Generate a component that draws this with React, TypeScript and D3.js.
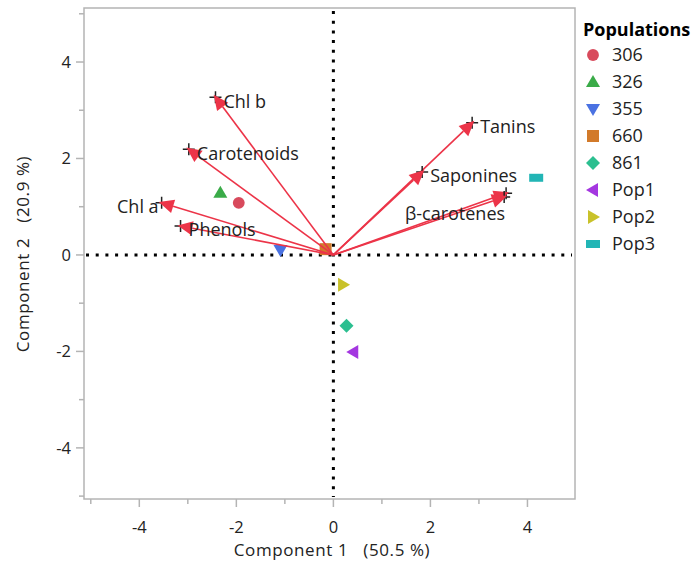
import React, { useEffect, useRef } from 'react';
import * as d3 from 'd3';

// population scores
const popNames = ['306', '326', '355', '660', '861', 'Pop1', 'Pop2', 'Pop3'];
const popX = [-1.95, -2.33, -1.09, -0.16, 0.27, 0.41, 0.2, 4.18];
const popY = [1.08, 1.29, 0.1, 0.12, -1.47, -2.01, -0.62, 1.6];
const popColors = ['#d84a5c', '#3aab48', '#4a72e2', '#d27a2a', '#2cbf90', '#a437e0', '#c9c22a', '#22b5b5'];
const popShapes = ['circle', 'up', 'down', 'square', 'diamond', 'left', 'right', 'bar'];

// variable loadings
const varNames = ['Chl b', 'Carotenoids', 'Chl a', 'Phenols', 'Tanins', 'Saponines', 'β-carotenes', ''];
const varX = [-2.43, -2.98, -3.54, -3.15, 2.86, 1.83, 3.56, 3.52];
const varY = [3.27, 2.19, 1.08, 0.6, 2.74, 1.72, 1.28, 1.2];

const xTicks = [-4, -2, 0, 2, 4];
const yTicks = [-4, -2, 0, 2, 4];
const minorTicks = [-5, -3, -1, 1, 3, 5];

const font = '"Open Sans", "Noto Sans", sans-serif';

const App = () => {
  const ref = useRef<SVGSVGElement>(null);

  useEffect(() => {
    const svg = d3.select(ref.current);
    svg.selectAll('*').remove();

    const x = d3.scaleLinear().domain([-5.14, 4.98]).range([84, 575]);
    const y = d3.scaleLinear().domain([-5.06, 5.12]).range([499, 8]);

    // frame
    svg.append('rect')
      .attr('x', 84).attr('y', 8)
      .attr('width', 575 - 84).attr('height', 499 - 8)
      .attr('fill', 'none').attr('stroke', '#b4b4b4').attr('stroke-width', 1.5);

    // y ticks
    yTicks.forEach(t => {
      svg.append('line').attr('x1', 76).attr('x2', 84).attr('y1', y(t)).attr('y2', y(t))
        .attr('stroke', '#b4b4b4').attr('stroke-width', 1.5);
      svg.append('text').attr('x', 71).attr('y', y(t)).attr('dy', '0.35em')
        .attr('text-anchor', 'end').style('font-family', font).style('font-size', '16.5px')
        .attr('fill', '#222').text(t);
    });
    minorTicks.filter(t => t > -5.06 && t < 5.12).forEach(t => {
      svg.append('line').attr('x1', 79).attr('x2', 84).attr('y1', y(t)).attr('y2', y(t))
        .attr('stroke', '#b4b4b4').attr('stroke-width', 1.5);
    });

    // x ticks
    xTicks.forEach(t => {
      svg.append('line').attr('x1', x(t)).attr('x2', x(t)).attr('y1', 499).attr('y2', 507)
        .attr('stroke', '#b4b4b4').attr('stroke-width', 1.5);
      svg.append('text').attr('x', x(t)).attr('y', 527).attr('dy', '0.35em')
        .attr('text-anchor', 'middle').style('font-family', font).style('font-size', '16.5px')
        .attr('fill', '#222').text(t);
    });
    minorTicks.filter(t => t > -5.14 && t < 4.98).forEach(t => {
      svg.append('line').attr('x1', x(t)).attr('x2', x(t)).attr('y1', 499).attr('y2', 504)
        .attr('stroke', '#b4b4b4').attr('stroke-width', 1.5);
    });

    // axis titles
    svg.append('text').attr('x', 332).attr('y', 550).attr('dy', '0.35em')
      .attr('text-anchor', 'middle').style('font-family', font).style('font-size', '17px')
      .style('letter-spacing', '0.6px')
      .attr('fill', '#222').attr('xml:space', 'preserve').text('Component 1   (50.5 %)');
    svg.append('text').attr('transform', `translate(23,254) rotate(-90)`).attr('dy', '0.35em')
      .attr('text-anchor', 'middle').style('font-family', font).style('font-size', '17px')
      .style('letter-spacing', '0.6px')
      .attr('fill', '#222').attr('xml:space', 'preserve').text('Component 2   (20.9 %)');

    // dotted reference lines
    svg.append('line').attr('x1', 86).attr('x2', 572).attr('y1', y(0)).attr('y2', y(0))
      .attr('stroke', '#000').attr('stroke-width', 3).attr('stroke-dasharray', '3,6.7');
    svg.append('line').attr('x1', x(0)).attr('x2', x(0)).attr('y1', 11).attr('y2', 497)
      .attr('stroke', '#000').attr('stroke-width', 3).attr('stroke-dasharray', '3,6.7');

    // score points
    const sym = (shape: string) => {
      switch (shape) {
        case 'circle': return d3.symbol(d3.symbolCircle, 110)();
        case 'up': return 'M0,-7L7,5L-7,5Z';
        case 'down': return 'M0,7L7,-5L-7,-5Z';
        case 'square': return 'M-6,-6H6V6H-6Z';
        case 'diamond': return 'M0,-7L7,0L0,7L-7,0Z';
        case 'left': return 'M-7,0L5,-7L5,7Z';
        case 'right': return 'M7,0L-5,-7L-5,7Z';
        default: return 'M-7,-4H7V4H-7Z';
      }
    };

    popNames.forEach((n, i) => {
      svg.append('path').attr('d', sym(popShapes[i]))
        .attr('transform', `translate(${x(popX[i])},${y(popY[i])})`)
        .attr('fill', popColors[i]);
    });

    // loading arrows: cross marker underneath, then line and head
    const red = '#ec3448';
    varNames.forEach((n, i) => {
      const x0 = x(0), y0 = y(0);
      const x1 = x(varX[i]), y1 = y(varY[i]);
      svg.append('path').attr('d', `M${x1 - 6},${y1}H${x1 + 6}M${x1},${y1 - 6}V${y1 + 6}`)
        .attr('stroke', '#222').attr('stroke-width', 1.5);
      const a = Math.atan2(y1 - y0, x1 - x0);
      const tx = x1 + 3 * Math.cos(a), ty = y1 + 3 * Math.sin(a);
      const L = 15, W = 7;
      const bx = tx - L * Math.cos(a), by = ty - L * Math.sin(a);
      svg.append('line').attr('x1', x0).attr('y1', y0).attr('x2', bx).attr('y2', by)
        .attr('stroke', red).attr('stroke-width', 1.6);
      svg.append('path')
        .attr('d', `M${tx},${ty}L${bx + W * Math.sin(a)},${by - W * Math.cos(a)}L${bx - W * Math.sin(a)},${by + W * Math.cos(a)}Z`)
        .attr('fill', red);
    });

    // variable labels
    const lab = svg.append('g').style('font-family', font).style('font-size', '18px').attr('fill', '#222');
    varNames.forEach((n, i) => {
      if (!n) return;
      let lx = x(varX[i]) + 8, ly = y(varY[i]) + 4, anchor = 'start';
      if (n === 'Chl a') { lx = x(varX[i]) - 3; anchor = 'end'; }
      if (n === 'β-carotenes') { lx = x(varX[i]) - 1; ly = y(varY[i]) + 20; anchor = 'end'; }
      lab.append('text').attr('x', lx).attr('y', ly).attr('dy', '0.35em')
        .attr('text-anchor', anchor).text(n);
    });

    // legend
    const leg = svg.append('g').attr('transform', 'translate(583,30)');
    leg.append('text').attr('x', 0).attr('y', 0).attr('dy', '0.35em')
      .style('font-family', font).style('font-size', '18px').style('font-weight', 'bold')
      .attr('fill', '#000').text('Populations');
    popNames.forEach((n, i) => {
      const ly = 25 + i * 27;
      leg.append('path').attr('d', sym(popShapes[i]))
        .attr('transform', `translate(10,${ly})`).attr('fill', popColors[i]);
      leg.append('text').attr('x', 29).attr('y', ly).attr('dy', '0.35em')
        .style('font-family', font).style('font-size', '18px').attr('fill', '#222').text(n);
    });
  }, []);

  return (
    <svg ref={ref} width={696} height={565}
      style={{ position: 'absolute', left: 0, top: 0, background: '#fff' }} />
  );
};

export default App;
